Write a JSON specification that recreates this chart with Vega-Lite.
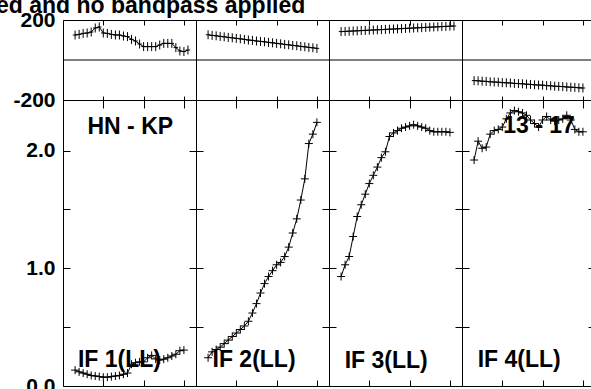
{
"$schema":"https://vega.github.io/schema/vega-lite/v6.json",
"padding":{"left":-4,"top":-6,"right":0,"bottom":0},
"title":{"text":"ed and no bandpass applied","anchor":"start","frame":"group","fontSize":23,"font":"Liberation Sans","fontWeight":"bold","color":"black","offset":-9,"dx":-67},
"config":{"view":{"stroke":"black","strokeWidth":1},"concat":{"spacing":0},"axis":{"tickColor":"black","labelColor":"black","labelFont":"Liberation Sans","labelFontSize":21,"labelFontWeight":"bold","domain":false,"grid":false,"tickWidth":1}},
"datasets":{"d":[
{"if":1,"ch":3,"phase":125,"amp":0.135},{"if":1,"ch":4,"phase":128,"amp":0.12},{"if":1,"ch":5,"phase":133,"amp":0.11},{"if":1,"ch":6,"phase":135,"amp":0.10},{"if":1,"ch":7,"phase":140,"amp":0.09},{"if":1,"ch":8,"phase":160,"amp":0.085},{"if":1,"ch":9,"phase":165,"amp":0.08},{"if":1,"ch":10,"phase":135,"amp":0.075},{"if":1,"ch":11,"phase":133,"amp":0.075},{"if":1,"ch":12,"phase":128,"amp":0.08},{"if":1,"ch":13,"phase":125,"amp":0.085},{"if":1,"ch":14,"phase":125,"amp":0.09},{"if":1,"ch":15,"phase":120,"amp":0.10},{"if":1,"ch":16,"phase":117,"amp":0.11},{"if":1,"ch":17,"phase":103,"amp":0.185},{"if":1,"ch":18,"phase":95,"amp":0.198},{"if":1,"ch":19,"phase":80,"amp":0.205},{"if":1,"ch":20,"phase":67,"amp":0.205},{"if":1,"ch":21,"phase":67,"amp":0.24},{"if":1,"ch":22,"phase":67,"amp":0.26},{"if":1,"ch":23,"phase":67,"amp":0.23},{"if":1,"ch":24,"phase":75,"amp":0.22},{"if":1,"ch":25,"phase":83,"amp":0.228},{"if":1,"ch":26,"phase":83,"amp":0.24},{"if":1,"ch":27,"phase":83,"amp":0.255},{"if":1,"ch":28,"phase":62,"amp":0.27},{"if":1,"ch":29,"phase":45,"amp":0.30},{"if":1,"ch":30,"phase":42,"amp":0.305},{"if":1,"ch":31,"phase":50,"amp":null},
{"if":2,"ch":3,"phase":126,"amp":0.24},{"if":2,"ch":4,"phase":123,"amp":0.29},{"if":2,"ch":5,"phase":121,"amp":0.31},{"if":2,"ch":6,"phase":118,"amp":0.33},{"if":2,"ch":7,"phase":116,"amp":0.36},{"if":2,"ch":8,"phase":113,"amp":0.39},{"if":2,"ch":9,"phase":111,"amp":0.42},{"if":2,"ch":10,"phase":108,"amp":0.45},{"if":2,"ch":11,"phase":106,"amp":0.48},{"if":2,"ch":12,"phase":103,"amp":0.51},{"if":2,"ch":13,"phase":100,"amp":0.55},{"if":2,"ch":14,"phase":98,"amp":0.62},{"if":2,"ch":15,"phase":95,"amp":0.70},{"if":2,"ch":16,"phase":93,"amp":0.79},{"if":2,"ch":17,"phase":91,"amp":0.87},{"if":2,"ch":18,"phase":88,"amp":0.93},{"if":2,"ch":19,"phase":86,"amp":0.98},{"if":2,"ch":20,"phase":83,"amp":1.03},{"if":2,"ch":21,"phase":81,"amp":1.05},{"if":2,"ch":22,"phase":78,"amp":1.10},{"if":2,"ch":23,"phase":76,"amp":1.18},{"if":2,"ch":24,"phase":73,"amp":1.30},{"if":2,"ch":25,"phase":71,"amp":1.42},{"if":2,"ch":26,"phase":68,"amp":1.58},{"if":2,"ch":27,"phase":66,"amp":1.76},{"if":2,"ch":28,"phase":63,"amp":2.06},{"if":2,"ch":29,"phase":61,"amp":2.14},{"if":2,"ch":30,"phase":58,"amp":2.24},
{"if":3,"ch":3,"phase":142,"amp":0.93},{"if":3,"ch":4,"phase":143,"amp":1.03},{"if":3,"ch":5,"phase":144,"amp":1.10},{"if":3,"ch":6,"phase":145,"amp":1.27},{"if":3,"ch":7,"phase":146,"amp":1.44},{"if":3,"ch":8,"phase":147,"amp":1.54},{"if":3,"ch":9,"phase":148,"amp":1.63},{"if":3,"ch":10,"phase":149,"amp":1.72},{"if":3,"ch":11,"phase":150,"amp":1.79},{"if":3,"ch":12,"phase":151,"amp":1.86},{"if":3,"ch":13,"phase":152,"amp":1.94},{"if":3,"ch":14,"phase":153,"amp":1.99},{"if":3,"ch":15,"phase":154,"amp":2.12},{"if":3,"ch":16,"phase":155,"amp":2.15},{"if":3,"ch":17,"phase":156,"amp":2.17},{"if":3,"ch":18,"phase":157,"amp":2.19},{"if":3,"ch":19,"phase":158,"amp":2.20},{"if":3,"ch":20,"phase":159,"amp":2.21},{"if":3,"ch":21,"phase":160,"amp":2.22},{"if":3,"ch":22,"phase":161,"amp":2.21},{"if":3,"ch":23,"phase":162,"amp":2.20},{"if":3,"ch":24,"phase":163,"amp":2.19},{"if":3,"ch":25,"phase":164,"amp":2.17},{"if":3,"ch":26,"phase":165,"amp":2.16},{"if":3,"ch":27,"phase":166,"amp":2.16},{"if":3,"ch":28,"phase":167,"amp":2.16},{"if":3,"ch":29,"phase":168,"amp":2.16},{"if":3,"ch":30,"phase":169,"amp":2.155},{"if":3,"ch":31,"phase":170,"amp":null},
{"if":4,"ch":3,"phase":-103,"amp":1.92},{"if":4,"ch":4,"phase":-104,"amp":2.08},{"if":4,"ch":5,"phase":-106,"amp":2.02},{"if":4,"ch":6,"phase":-107,"amp":2.03},{"if":4,"ch":7,"phase":-109,"amp":2.14},{"if":4,"ch":8,"phase":-110,"amp":2.17},{"if":4,"ch":9,"phase":-111,"amp":2.18},{"if":4,"ch":10,"phase":-113,"amp":2.20},{"if":4,"ch":11,"phase":-114,"amp":2.27},{"if":4,"ch":12,"phase":-115,"amp":2.32},{"if":4,"ch":13,"phase":-117,"amp":2.34},{"if":4,"ch":14,"phase":-118,"amp":2.33},{"if":4,"ch":15,"phase":-119,"amp":2.32},{"if":4,"ch":16,"phase":-121,"amp":2.30},{"if":4,"ch":17,"phase":-122,"amp":2.26},{"if":4,"ch":18,"phase":-124,"amp":2.23},{"if":4,"ch":19,"phase":-125,"amp":2.20},{"if":4,"ch":20,"phase":-126,"amp":2.26},{"if":4,"ch":21,"phase":-128,"amp":2.29},{"if":4,"ch":22,"phase":-129,"amp":2.26},{"if":4,"ch":23,"phase":-131,"amp":2.25},{"if":4,"ch":24,"phase":-132,"amp":2.26},{"if":4,"ch":25,"phase":-133,"amp":2.27},{"if":4,"ch":26,"phase":-135,"amp":2.30},{"if":4,"ch":27,"phase":-136,"amp":2.26},{"if":4,"ch":28,"phase":-137,"amp":2.18},{"if":4,"ch":29,"phase":-139,"amp":2.16},{"if":4,"ch":30,"phase":-140,"amp":2.16}
]},
"spacing":0,
"bounds":"flush",
"columns":4,
"concat":[
{"width":133,"height":80,"data":{"name":"d"},"transform":[{"filter":"datum.if == 1"}],"resolve":{"axis":{"x":"independent","y":"independent"}},"layer":[
{"data":{"values":[{}]},"mark":{"type":"rule","color":"black","strokeWidth":1},"encoding":{"y":{"datum":0,"type":"quantitative","scale":{"domain":[-200,200],"nice":false},"axis":null}}},
{"mark":{"type":"line","color":"black","strokeWidth":1},"encoding":{"x":{"field":"ch","type":"quantitative","scale":{"domain":[0,33],"nice":false},"axis":{"orient":"bottom","values":[10,20,30],"tickSize":-4,"labels":false,"minExtent":0,"maxExtent":0,"title":null}},"y":{"field":"phase","type":"quantitative","scale":{"domain":[-200,200],"nice":false},"axis":{"orient":"left","values":[-200,200],"tickSize":-6,"labelPadding":14,"labelExpr":"(datum.value < 0 ? '-' : '') + abs(datum.value)","title":null}}}},
{"mark":{"type":"point","shape":"M-0.5,0H0.5M0,-1V1","filled":false,"color":"black","strokeWidth":1,"size":81,"opacity":1},"encoding":{"x":{"field":"ch","type":"quantitative","scale":{"domain":[0,33],"nice":false},"axis":{"orient":"top","values":[10,20,30],"tickSize":-5,"labels":false,"minExtent":0,"maxExtent":0,"title":null}},"y":{"field":"phase","type":"quantitative","scale":{"domain":[-200,200],"nice":false},"axis":{"orient":"right","values":[-200,200],"tickSize":-6,"labels":false,"minExtent":0,"maxExtent":0,"title":null}}}}
]},
{"width":133,"height":80,"data":{"name":"d"},"transform":[{"filter":"datum.if == 2"}],"resolve":{"axis":{"x":"independent","y":"independent"}},"layer":[
{"data":{"values":[{}]},"mark":{"type":"rule","color":"black","strokeWidth":1},"encoding":{"y":{"datum":0,"type":"quantitative","scale":{"domain":[-200,200],"nice":false},"axis":null}}},
{"mark":{"type":"line","color":"black","strokeWidth":1},"encoding":{"x":{"field":"ch","type":"quantitative","scale":{"domain":[0,33],"nice":false},"axis":{"orient":"bottom","values":[10,20,30],"tickSize":-4,"labels":false,"minExtent":0,"maxExtent":0,"title":null}},"y":{"field":"phase","type":"quantitative","scale":{"domain":[-200,200],"nice":false},"axis":{"orient":"left","values":[-200,200],"tickSize":-6,"labels":false,"minExtent":0,"maxExtent":0,"title":null}}}},
{"mark":{"type":"point","shape":"M-0.5,0H0.5M0,-1V1","filled":false,"color":"black","strokeWidth":1,"size":81,"opacity":1},"encoding":{"x":{"field":"ch","type":"quantitative","scale":{"domain":[0,33],"nice":false},"axis":{"orient":"top","values":[10,20,30],"tickSize":-5,"labels":false,"minExtent":0,"maxExtent":0,"title":null}},"y":{"field":"phase","type":"quantitative","scale":{"domain":[-200,200],"nice":false},"axis":{"orient":"right","values":[-200,200],"tickSize":-6,"labels":false,"minExtent":0,"maxExtent":0,"title":null}}}}
]},
{"width":133,"height":80,"data":{"name":"d"},"transform":[{"filter":"datum.if == 3"}],"resolve":{"axis":{"x":"independent","y":"independent"}},"layer":[
{"data":{"values":[{}]},"mark":{"type":"rule","color":"black","strokeWidth":1},"encoding":{"y":{"datum":0,"type":"quantitative","scale":{"domain":[-200,200],"nice":false},"axis":null}}},
{"mark":{"type":"line","color":"black","strokeWidth":1},"encoding":{"x":{"field":"ch","type":"quantitative","scale":{"domain":[0,33],"nice":false},"axis":{"orient":"bottom","values":[10,20,30],"tickSize":-4,"labels":false,"minExtent":0,"maxExtent":0,"title":null}},"y":{"field":"phase","type":"quantitative","scale":{"domain":[-200,200],"nice":false},"axis":{"orient":"left","values":[-200,200],"tickSize":-6,"labels":false,"minExtent":0,"maxExtent":0,"title":null}}}},
{"mark":{"type":"point","shape":"M-0.5,0H0.5M0,-1V1","filled":false,"color":"black","strokeWidth":1,"size":81,"opacity":1},"encoding":{"x":{"field":"ch","type":"quantitative","scale":{"domain":[0,33],"nice":false},"axis":{"orient":"top","values":[10,20,30],"tickSize":-5,"labels":false,"minExtent":0,"maxExtent":0,"title":null}},"y":{"field":"phase","type":"quantitative","scale":{"domain":[-200,200],"nice":false},"axis":{"orient":"right","values":[-200,200],"tickSize":-6,"labels":false,"minExtent":0,"maxExtent":0,"title":null}}}}
]},
{"width":133,"height":80,"data":{"name":"d"},"transform":[{"filter":"datum.if == 4"}],"resolve":{"axis":{"x":"independent","y":"independent"}},"layer":[
{"data":{"values":[{}]},"mark":{"type":"rule","color":"black","strokeWidth":1},"encoding":{"y":{"datum":0,"type":"quantitative","scale":{"domain":[-200,200],"nice":false},"axis":null}}},
{"mark":{"type":"line","color":"black","strokeWidth":1},"encoding":{"x":{"field":"ch","type":"quantitative","scale":{"domain":[0,33],"nice":false},"axis":{"orient":"bottom","values":[10,20,30],"tickSize":-4,"labels":false,"minExtent":0,"maxExtent":0,"title":null}},"y":{"field":"phase","type":"quantitative","scale":{"domain":[-200,200],"nice":false},"axis":{"orient":"left","values":[-200,200],"tickSize":-6,"labels":false,"minExtent":0,"maxExtent":0,"title":null}}}},
{"mark":{"type":"point","shape":"M-0.5,0H0.5M0,-1V1","filled":false,"color":"black","strokeWidth":1,"size":81,"opacity":1},"encoding":{"x":{"field":"ch","type":"quantitative","scale":{"domain":[0,33],"nice":false},"axis":{"orient":"top","values":[10,20,30],"tickSize":-5,"labels":false,"minExtent":0,"maxExtent":0,"title":null}},"y":{"field":"phase","type":"quantitative","scale":{"domain":[-200,200],"nice":false},"axis":{"orient":"right","values":[-200,200],"tickSize":-6,"labels":false,"minExtent":0,"maxExtent":0,"title":null}}}}
]},
{"width":133,"height":286,"data":{"name":"d"},"transform":[{"filter":"datum.if == 1"}],"resolve":{"axis":{"x":"independent","y":"independent"}},"layer":[
{"mark":{"type":"line","color":"black","strokeWidth":1},"encoding":{"x":{"field":"ch","type":"quantitative","scale":{"domain":[0,33],"nice":false},"axis":{"orient":"bottom","values":[10,20,30],"tickSize":-6,"labels":false,"minExtent":0,"maxExtent":0,"title":null}},"y":{"field":"amp","type":"quantitative","scale":{"domain":[0,2.43],"nice":false,"zero":false},"axis":{"orient":"left","values":[0,0.5,1,1.5,2],"tickSize":-7,"labelPadding":15,"labelExpr":"datum.value % 1 == 0 ? format(datum.value, '.1f') : ''","title":null}}}},
{"mark":{"type":"point","shape":"M-1,0H1M0,-1V1","filled":false,"color":"black","strokeWidth":1,"size":64,"opacity":1},"encoding":{"x":{"field":"ch","type":"quantitative","scale":{"domain":[0,33],"nice":false},"axis":{"orient":"top","values":[10,20,30],"tickSize":-8,"labels":false,"minExtent":0,"maxExtent":0,"title":null}},"y":{"field":"amp","type":"quantitative","scale":{"domain":[0,2.43],"nice":false,"zero":false},"axis":{"orient":"right","values":[0,0.5,1,1.5,2],"tickSize":-7,"labels":false,"minExtent":0,"maxExtent":0,"title":null}}}},
{"data":{"values":[{"label":"IF 1(LL)"}]},"mark":{"type":"text","align":"left","baseline":"alphabetic","font":"Liberation Sans","fontSize":23,"fontWeight":"bold","color":"black"},"encoding":{"x":{"datum":3.7,"type":"quantitative","axis":null},"y":{"datum":0.16,"type":"quantitative","axis":null},"text":{"field":"label"}}},
{"data":{"values":[{"label":"HN - KP"}]},"mark":{"type":"text","align":"center","baseline":"alphabetic","font":"Liberation Sans","fontSize":23,"fontWeight":"bold","color":"black"},"encoding":{"x":{"datum":16.7,"type":"quantitative","axis":null},"y":{"datum":2.14,"type":"quantitative","axis":null},"text":{"field":"label"}}}
]},
{"width":133,"height":286,"data":{"name":"d"},"transform":[{"filter":"datum.if == 2"}],"resolve":{"axis":{"x":"independent","y":"independent"}},"layer":[
{"mark":{"type":"line","color":"black","strokeWidth":1},"encoding":{"x":{"field":"ch","type":"quantitative","scale":{"domain":[0,33],"nice":false},"axis":{"orient":"bottom","values":[10,20,30],"tickSize":-6,"labels":false,"minExtent":0,"maxExtent":0,"title":null}},"y":{"field":"amp","type":"quantitative","scale":{"domain":[0,2.43],"nice":false,"zero":false},"axis":{"orient":"left","values":[0,0.5,1,1.5,2],"tickSize":-7,"labels":false,"minExtent":0,"maxExtent":0,"title":null}}}},
{"mark":{"type":"point","shape":"M-1,0H1M0,-1V1","filled":false,"color":"black","strokeWidth":1,"size":64,"opacity":1},"encoding":{"x":{"field":"ch","type":"quantitative","scale":{"domain":[0,33],"nice":false},"axis":{"orient":"top","values":[10,20,30],"tickSize":-8,"labels":false,"minExtent":0,"maxExtent":0,"title":null}},"y":{"field":"amp","type":"quantitative","scale":{"domain":[0,2.43],"nice":false,"zero":false},"axis":{"orient":"right","values":[0,0.5,1,1.5,2],"tickSize":-7,"labels":false,"minExtent":0,"maxExtent":0,"title":null}}}},
{"data":{"values":[{"label":"IF 2(LL)"}]},"mark":{"type":"text","align":"left","baseline":"alphabetic","font":"Liberation Sans","fontSize":23,"fontWeight":"bold","color":"black"},"encoding":{"x":{"datum":4.1,"type":"quantitative","axis":null},"y":{"datum":0.16,"type":"quantitative","axis":null},"text":{"field":"label"}}}
]},
{"width":133,"height":286,"data":{"name":"d"},"transform":[{"filter":"datum.if == 3"}],"resolve":{"axis":{"x":"independent","y":"independent"}},"layer":[
{"mark":{"type":"line","color":"black","strokeWidth":1},"encoding":{"x":{"field":"ch","type":"quantitative","scale":{"domain":[0,33],"nice":false},"axis":{"orient":"bottom","values":[10,20,30],"tickSize":-6,"labels":false,"minExtent":0,"maxExtent":0,"title":null}},"y":{"field":"amp","type":"quantitative","scale":{"domain":[0,2.43],"nice":false,"zero":false},"axis":{"orient":"left","values":[0,0.5,1,1.5,2],"tickSize":-7,"labels":false,"minExtent":0,"maxExtent":0,"title":null}}}},
{"mark":{"type":"point","shape":"M-1,0H1M0,-1V1","filled":false,"color":"black","strokeWidth":1,"size":64,"opacity":1},"encoding":{"x":{"field":"ch","type":"quantitative","scale":{"domain":[0,33],"nice":false},"axis":{"orient":"top","values":[10,20,30],"tickSize":-8,"labels":false,"minExtent":0,"maxExtent":0,"title":null}},"y":{"field":"amp","type":"quantitative","scale":{"domain":[0,2.43],"nice":false,"zero":false},"axis":{"orient":"right","values":[0,0.5,1,1.5,2],"tickSize":-7,"labels":false,"minExtent":0,"maxExtent":0,"title":null}}}},
{"data":{"values":[{"label":"IF 3(LL)"}]},"mark":{"type":"text","align":"left","baseline":"alphabetic","font":"Liberation Sans","fontSize":23,"fontWeight":"bold","color":"black"},"encoding":{"x":{"datum":3.9,"type":"quantitative","axis":null},"y":{"datum":0.155,"type":"quantitative","axis":null},"text":{"field":"label"}}}
]},
{"width":133,"height":286,"data":{"name":"d"},"transform":[{"filter":"datum.if == 4"}],"resolve":{"axis":{"x":"independent","y":"independent"}},"layer":[
{"mark":{"type":"line","color":"black","strokeWidth":1},"encoding":{"x":{"field":"ch","type":"quantitative","scale":{"domain":[0,33],"nice":false},"axis":{"orient":"bottom","values":[10,20,30],"tickSize":-6,"labels":false,"minExtent":0,"maxExtent":0,"title":null}},"y":{"field":"amp","type":"quantitative","scale":{"domain":[0,2.43],"nice":false,"zero":false},"axis":{"orient":"left","values":[0,0.5,1,1.5,2],"tickSize":-7,"labels":false,"minExtent":0,"maxExtent":0,"title":null}}}},
{"mark":{"type":"point","shape":"M-1,0H1M0,-1V1","filled":false,"color":"black","strokeWidth":1,"size":64,"opacity":1},"encoding":{"x":{"field":"ch","type":"quantitative","scale":{"domain":[0,33],"nice":false},"axis":{"orient":"top","values":[10,20,30],"tickSize":-8,"labels":false,"minExtent":0,"maxExtent":0,"title":null}},"y":{"field":"amp","type":"quantitative","scale":{"domain":[0,2.43],"nice":false,"zero":false},"axis":{"orient":"right","values":[0,0.5,1,1.5,2],"tickSize":-7,"labels":false,"minExtent":0,"maxExtent":0,"title":null}}}},
{"data":{"values":[{"label":"IF 4(LL)"}]},"mark":{"type":"text","align":"left","baseline":"alphabetic","font":"Liberation Sans","fontSize":23,"fontWeight":"bold","color":"black"},"encoding":{"x":{"datum":3.9,"type":"quantitative","axis":null},"y":{"datum":0.16,"type":"quantitative","axis":null},"text":{"field":"label"}}},
{"data":{"values":[{"label":"13 - 17"}]},"mark":{"type":"text","align":"center","baseline":"alphabetic","font":"Liberation Sans","fontSize":23,"fontWeight":"bold","color":"black"},"encoding":{"x":{"datum":19.1,"type":"quantitative","axis":null},"y":{"datum":2.15,"type":"quantitative","axis":null},"text":{"field":"label"}}}
]}
]
}
